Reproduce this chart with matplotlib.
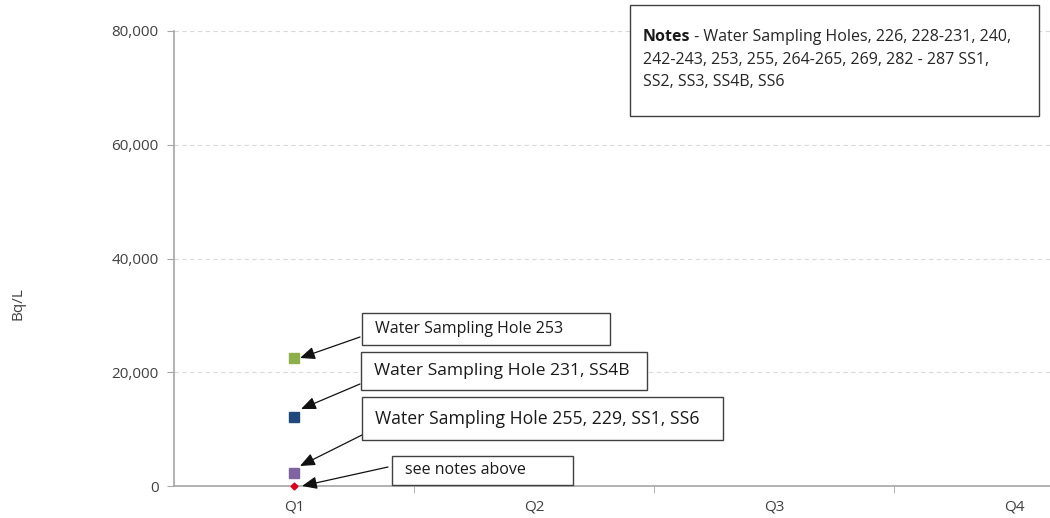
import matplotlib
matplotlib.use("Agg")
import matplotlib.pyplot as plt
from matplotlib.patches import Rectangle

plt.rcParams['font.family'] = ['Open Sans', 'DejaVu Sans']

quarters = ["Q1", "Q2", "Q3", "Q4"]
series_names = ["Water Sampling Hole 253", "Water Sampling Hole 231, SS4B",
                "Water Sampling Hole 255, 229, SS1, SS6", "see notes above"]
series_values = [22500, 12100, 2300, 0]
series_colors = ["#8db04a", "#1f497d", "#8064a2", "#e0001b"]
series_markers = ["s", "s", "s", "D"]
series_sizes = [6.5, 6.5, 6.5, 3.5]
yticks = [0, 20000, 40000, 60000, 80000]
notes_text = "Notes"
notes_rest = [" - Water Sampling Holes, 226, 228-231, 240,",
              "242-243, 253, 255, 264-265, 269, 282 - 287 SS1,",
              "SS2, SS3, SS4B, SS6"]

W, H = 1050, 518
fig = plt.figure(figsize=(W / 100, H / 100), dpi=100)
ax_left, ax_bottom = 174, H - 486
ax_w, ax_h = 960, 486 - 31
ax = fig.add_axes([ax_left / W, ax_bottom / H, ax_w / W, ax_h / H])

for v, c, m, s in zip(series_values, series_colors, series_markers, series_sizes):
    ax.plot([0], [v], marker=m, color=c, markersize=s, linestyle='none', zorder=5, clip_on=False)

ax.set_xlim(-0.5, 3.5)
ax.set_ylim(0, 80000)
ax.set_yticks(yticks)
ax.set_yticklabels([f"{t:,}" for t in yticks])
ax.set_xticks(range(4))
ax.set_xticklabels(quarters)
ax.set_xticks([0.5, 1.5, 2.5, 3.5], minor=True)
ax.tick_params(axis='x', which='major', length=0, pad=10, labelsize=11, labelcolor='#404040')
ax.tick_params(axis='x', which='minor', length=5, color='#a6a6a6', direction='out')
ax.tick_params(axis='y', length=5, color='#a6a6a6', labelsize=11, labelcolor='#404040', pad=6)
ax.grid(axis='y', linestyle=(0, (4, 3)), color='#d9d9d9', linewidth=0.8)
ax.set_axisbelow(True)
for sp in ['top', 'right']:
    ax.spines[sp].set_visible(False)
for sp in ['left', 'bottom']:
    ax.spines[sp].set_color('#a6a6a6')
    ax.spines[sp].set_linewidth(1.2)

fig.text(18 / W, (H - 304) / H, "Bq/L", rotation=90, ha='center', va='center',
         fontsize=11, color='#404040')

def px(x, y):
    return (x / W, (H - y) / H)

# annotation boxes: (x0, y0, x1, y1) in image pixels, text size, arrow start, arrow tip
boxes = [
    ((362, 313, 610, 345), 11.5, (360, 337), (300, 358)),
    ((361, 352, 647, 390), 12.6, (360, 384), (301, 409)),
    ((362, 397, 723, 440), 12.7, (362, 435), (300, 466)),
    ((392, 456, 573, 485), 11.5, (388, 467), (302, 486)),
]
for name, (b, fs, start, tip) in zip(series_names, boxes):
    x0, y0, x1, y1 = b
    fig.patches.append(Rectangle(px(x0, y1), (x1 - x0) / W, (y1 - y0) / H,
                                 transform=fig.transFigure, facecolor='white',
                                 edgecolor='#404040', linewidth=1.0, zorder=6))
    fig.text((x0 + 13) / W, (H - (y0 + y1) / 2) / H, name, ha='left', va='center',
             fontsize=fs, color='#1a1a1a', zorder=7)
    ax.annotate("", xy=(tip[0], H - tip[1]), xycoords='figure pixels',
                xytext=(start[0], H - start[1]), textcoords='figure pixels',
                arrowprops=dict(arrowstyle='-|>,head_length=0.9,head_width=0.38',
                                color='#111111', lw=0.9, shrinkA=0, shrinkB=0),
                annotation_clip=False, zorder=8)

# notes box
fig.patches.append(Rectangle(px(630, 116), (1039 - 630) / W, (116 - 5) / H,
                             transform=fig.transFigure, facecolor='white',
                             edgecolor='#404040', linewidth=1.0, zorder=6))
t = fig.text(643 / W, (H - 37) / H, notes_text, ha='left', va='center', fontsize=11.5,
             fontweight='bold', color='#1a1a1a', zorder=7)
fig.canvas.draw()
bb = t.get_window_extent()
fig.text(bb.x1 / W, (H - 37) / H, notes_rest[0], ha='left', va='center', fontsize=11.5,
         color='#262626', zorder=7)
for i, line in enumerate(notes_rest[1:]):
    fig.text(643 / W, (H - 37 - 22.5 * (i + 1)) / H, line, ha='left', va='center',
             fontsize=11.5, color='#262626', zorder=7)

fig.savefig("out.png", dpi=100)
